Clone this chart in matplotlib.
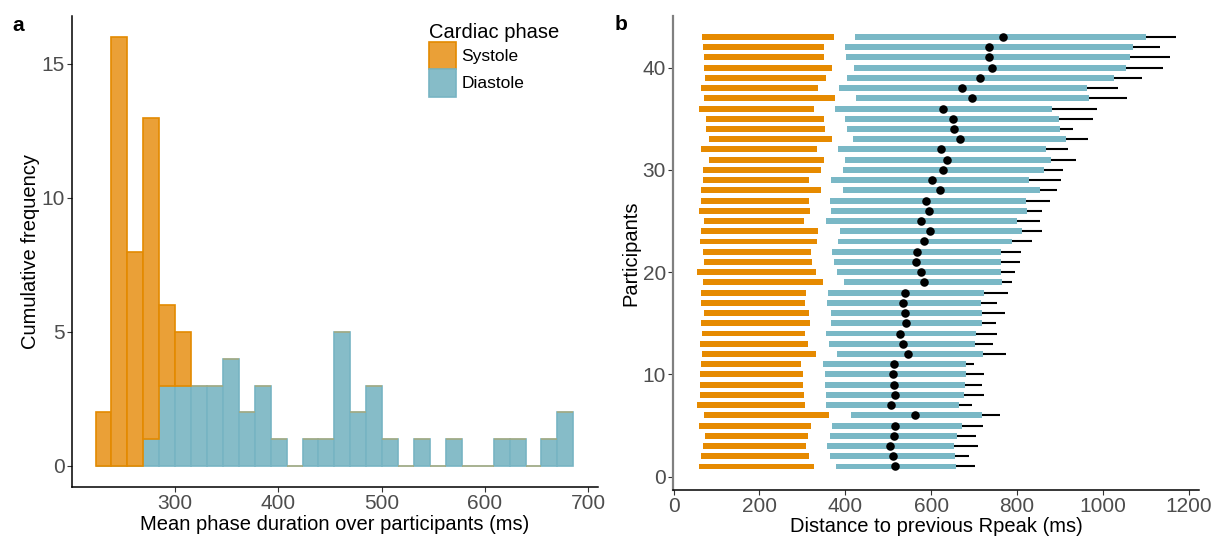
import numpy as np
import matplotlib
matplotlib.use('Agg')
import matplotlib.pyplot as plt
from matplotlib.patches import Patch

plt.rcParams['font.family'] = ['Liberation Sans', 'DejaVu Sans']

# panel a: stacked histogram, 30 bins
bin_start = 222.8
bin_width = 15.43
diastole_counts = [0, 0, 0, 1, 3, 3, 3, 3, 4, 2, 3, 1, 0, 1, 1,
                   5, 2, 3, 1, 0, 1, 0, 1, 0, 0, 1, 1, 0, 1, 2]
systole_counts = [2, 16, 8, 12, 3, 2, 0, 0, 0, 0, 0, 0, 0, 0, 0,
                  0, 0, 0, 0, 0, 0, 0, 0, 0, 0, 0, 0, 0, 0, 0]

# panel b: per participant (1..43), ms
participants = list(range(1, 44))
sys_start = [59, 65, 69, 73, 60, 70, 55, 62, 62, 62, 64, 66, 62, 66, 64,
             70, 64, 65, 68, 55, 70, 69, 61, 65, 72, 59, 65, 65, 69, 69,
             83, 65, 83, 76, 76, 59, 71, 63, 73, 70, 72, 69, 66]
sys_end = [328, 315, 308, 313, 319, 362, 305, 303, 302, 301, 296, 331, 312, 305, 318,
           316, 306, 308, 348, 332, 323, 320, 333, 337, 303, 317, 315, 343, 315, 344,
           350, 333, 369, 353, 350, 326, 376, 336, 354, 370, 350, 350, 373]
dia_start = [378, 365, 358, 364, 370, 413, 355, 354, 353, 352, 347, 381, 362, 355, 367,
             367, 357, 359, 398, 381, 373, 370, 383, 388, 354, 367, 364, 394, 366, 395,
             400, 383, 419, 403, 399, 376, 426, 386, 404, 420, 401, 399, 423]
dia_end = [658, 656, 653, 659, 671, 719, 665, 677, 679, 681, 681, 721, 702, 705, 718,
           718, 716, 722, 765, 763, 763, 762, 789, 812, 801, 823, 822, 853, 828, 863,
           879, 868, 913, 899, 897, 882, 968, 962, 1026, 1054, 1064, 1069, 1100]
dot_val = [516, 510, 504, 513, 516, 563, 506, 515, 514, 511, 513, 547, 534, 528, 542,
           540, 535, 540, 583, 576, 564, 566, 583, 597, 576, 594, 588, 620, 601, 628,
           636, 622, 666, 653, 650, 627, 694, 672, 713, 741, 735, 734, 767]
line_end = [701, 688, 708, 705, 721, 760, 695, 723, 718, 723, 700, 774, 744, 753, 750,
            771, 753, 780, 788, 795, 807, 809, 836, 857, 854, 857, 877, 893, 903, 906,
            937, 919, 965, 931, 976, 987, 1055, 1034, 1090, 1139, 1156, 1132, 1170]

orange_fill = '#EAA037'
orange_edge = '#E38A00'
blue_fill = '#86BCC8'
blue_edge = '#77B4C3'
orange_bar = '#E68A00'
blue_bar = '#7AB8C6'
tick_grey = '#4D4D4D'

fig = plt.figure(figsize=(12.13, 5.4), dpi=100)
ax1 = fig.add_axes([0.0591, 0.0976, 0.4336, 0.8728])
ax2 = fig.add_axes([0.5548, 0.0926, 0.4339, 0.8778])

# ---- panel a
lefts = bin_start + bin_width * np.arange(len(diastole_counts))
dia = np.array(diastole_counts)
sysc = np.array(systole_counts)
ax1.bar(lefts, dia, width=bin_width, align='edge', color=blue_fill,
        edgecolor=blue_edge, linewidth=1.2, zorder=2)
sys_edges = [orange_edge if c > 0 else (0.85, 0.62, 0.2, 0.45) for c in sysc]
ax1.bar(lefts, sysc, bottom=dia, width=bin_width, align='edge', color=orange_fill,
        edgecolor=sys_edges, linewidth=1.2, zorder=2)

ax1.set_xlim(199.7, 709.3)
ax1.set_ylim(-0.795, 16.79)
ax1.set_xticks([300, 400, 500, 600, 700])
ax1.set_yticks([0, 5, 10, 15])
ax1.set_xlabel('Mean phase duration over participants (ms)', fontsize=14.5, labelpad=1)
ax1.set_ylabel('Cumulative frequency', fontsize=14.5, labelpad=1)

handles = [Patch(facecolor=orange_fill, edgecolor=orange_edge, linewidth=1.2, label='Systole'),
           Patch(facecolor=blue_fill, edgecolor=blue_edge, linewidth=1.2, label='Diastole')]
leg = ax1.legend(handles=handles, title='Cardiac phase', loc='upper left',
                 bbox_to_anchor=(0.662, 1.004), frameon=False, fontsize=12.5,
                 title_fontsize=14.5, handlelength=1.6, handleheight=2.05,
                 labelspacing=0.0, handletextpad=0.3, borderpad=0.0,
                 alignment='left')

# ---- panel b
ax2.hlines(participants, dot_val, line_end, color='black', linewidth=1.5, zorder=1)
ax2.barh(participants, np.array(sys_end) - np.array(sys_start), left=sys_start,
         height=0.58, color=orange_bar, linewidth=0, zorder=2)
ax2.barh(participants, np.array(dia_end) - np.array(dia_start), left=dia_start,
         height=0.58, color=blue_bar, linewidth=0, zorder=2)
ax2.scatter(dot_val, participants, s=38, color='black', zorder=3, linewidths=0)

ax2.set_xlim(-1.4, 1224.5)
ax2.set_ylim(-1.3, 45.05)
ax2.set_xticks([0, 200, 400, 600, 800, 1000, 1200])
ax2.set_yticks([0, 10, 20, 30, 40])
ax2.set_xlabel('Distance to previous Rpeak (ms)', fontsize=14.5, labelpad=1)
ax2.set_ylabel('Participants', fontsize=14.5, labelpad=2)

for ax in (ax1, ax2):
    for side in ('top', 'right'):
        ax.spines[side].set_visible(False)
    ax.tick_params(labelsize=15, colors=tick_grey, length=3.5, width=0.8,
                   pad=1.5)
    ax.tick_params(axis='both', color='#333333')
    for side in ('left', 'bottom'):
        ax.spines[side].set_linewidth(1.1)
        ax.spines[side].set_color('black')
ax2.spines['left'].set_color('#808080')
ax2.spines['left'].set_linewidth(1.6)

fig.text(0.010, 0.953, 'a', fontsize=15, fontweight='bold', va='center')
fig.text(0.507, 0.955, 'b', fontsize=15, fontweight='bold', va='center')

fig.savefig('out.png', dpi=100)
